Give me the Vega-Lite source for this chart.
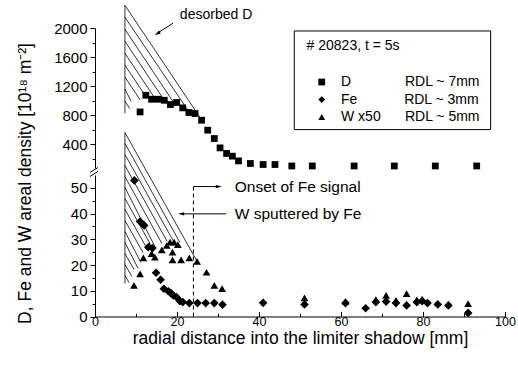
{
  "$schema": "https://vega.github.io/schema/vega-lite/v6.json",
  "padding": {"left": 15, "top": 4, "right": 5, "bottom": 5},
  "spacing": 7,
  "bounds": "flush",
  "config": {
    "font": "Liberation Sans",
    "view": {"stroke": null},
    "axis": {"domainColor": "black", "tickColor": "black", "labelColor": "black", "titleColor": "black", "grid": false, "labelFont": "Liberation Sans", "titleFont": "Liberation Sans", "titleFontWeight": "normal", "domainWidth": 1, "tickWidth": 1, "labelFlush": false, "labelOverlap": false},
    "text": {"font": "Liberation Sans", "color": "black"}
  },
  "vconcat": [
    {
      "width": 410,
      "height": 140,
      "encoding": {
        "x": {"field": "x", "type": "quantitative", "scale": {"domain": [0, 100]}, "axis": null},
        "y": {"field": "y", "type": "quantitative", "scale": {"domain": [72, 2000]},
          "axis": {"values": [200, 400, 600, 800, 1000, 1200, 1400, 1600, 1800, 2000], "format": "d",
            "labelExpr": "datum.value % 400 === 0 ? datum.label : ''",
            "tickSize": {"condition": {"test": "datum.value % 400 === 0", "value": 5}, "value": 3},
            "labelFontSize": 15, "labelPadding": 3, "title": null}}
      },
      "layer": [
        {
          "data": {"values": [
            {"x": 7.3, "y": 2312, "x2": 7.3, "y2": 827},
            {"x": 7.3, "y": 2312, "x2": 25.9, "y2": 744},
            {"x": 7.3, "y": 2147, "x2": 23.0, "y2": 840},
            {"x": 7.3, "y": 1982, "x2": 19.3, "y2": 964},
            {"x": 7.3, "y": 1817, "x2": 16.8, "y2": 1012},
            {"x": 7.3, "y": 1652, "x2": 14.6, "y2": 1033},
            {"x": 7.3, "y": 1487, "x2": 12.2, "y2": 1074},
            {"x": 7.3, "y": 1322, "x2": 11.0, "y2": 1012},
            {"x": 7.3, "y": 1157, "x2": 8.8, "y2": 992},
            {"x": 7.3, "y": 991, "x2": 8.5, "y2": 889}
          ]},
          "mark": {"type": "rule", "color": "black", "strokeWidth": 0.8},
          "encoding": {"x2": {"field": "x2"}, "y2": {"field": "y2"}}
        },
        {
          "data": {"values": [
            {"x": 11.0, "y": 844}, {"x": 12.4, "y": 1074}, {"x": 13.8, "y": 1019}, {"x": 15.4, "y": 1019},
            {"x": 16.9, "y": 1005}, {"x": 18.4, "y": 946}, {"x": 19.9, "y": 974}, {"x": 21.4, "y": 900},
            {"x": 22.9, "y": 836}, {"x": 24.4, "y": 822}, {"x": 26.0, "y": 730}, {"x": 27.5, "y": 593},
            {"x": 29.1, "y": 478}, {"x": 30.5, "y": 349}, {"x": 32.1, "y": 272}, {"x": 33.5, "y": 235},
            {"x": 35.0, "y": 170}, {"x": 37.9, "y": 134}, {"x": 41.0, "y": 120}, {"x": 43.9, "y": 120},
            {"x": 48.0, "y": 100}, {"x": 53.0, "y": 100}, {"x": 63.2, "y": 100}, {"x": 73.0, "y": 100},
            {"x": 83.0, "y": 100}, {"x": 93.1, "y": 100}
          ]},
          "mark": {"type": "point", "shape": "square", "filled": true, "color": "black", "opacity": 1, "size": 46}
        },
        {
          "data": {"values": [{"x": 48.6, "y": 1959, "x2": 96.5, "y2": 601}]},
          "mark": {"type": "rect", "fill": null, "fillOpacity": 0, "stroke": "black", "strokeWidth": 1},
          "encoding": {"x2": {"field": "x2"}, "y2": {"field": "y2"}}
        },
        {
          "data": {"values": [
            {"x": 51.6, "y": 1748, "t": "# 20823, t = 5s"},
            {"x": 60.0, "y": 1256, "t": "D"},
            {"x": 75.6, "y": 1256, "t": "RDL ~ 7mm"},
            {"x": 60.0, "y": 1014, "t": "Fe"},
            {"x": 75.4, "y": 1014, "t": "RDL ~ 3mm"},
            {"x": 60.0, "y": 774, "t": "W x50"},
            {"x": 75.6, "y": 774, "t": "RDL ~ 5mm"}
          ]},
          "mark": {"type": "text", "align": "left", "baseline": "middle", "fontSize": 14, "color": "black"},
          "encoding": {"text": {"field": "t"}}
        },
        {
          "data": {"values": [
            {"x": 55.3, "y": 1256, "s": "D"},
            {"x": 55.3, "y": 1014, "s": "Fe"},
            {"x": 55.3, "y": 774, "s": "W"}
          ]},
          "mark": {"type": "point", "filled": true, "color": "black", "opacity": 1, "size": 46},
          "encoding": {"shape": {"field": "s", "type": "nominal", "scale": {"domain": ["D", "Fe", "W"], "range": ["square", "diamond", "triangle-up"]}, "legend": null}}
        },
        {
          "data": {"values": [{"x": 20.7, "y": 2175, "t": "desorbed D"}]},
          "mark": {"type": "text", "align": "left", "baseline": "middle", "fontSize": 14, "color": "black"},
          "encoding": {"text": {"field": "t"}}
        },
        {
          "data": {"values": [{"x": 19.0, "y": 2065, "x2": 15.4, "y2": 1935}]},
          "mark": {"type": "rule", "color": "black", "strokeWidth": 1},
          "encoding": {"x2": {"field": "x2"}, "y2": {"field": "y2"}}
        },
        {
          "data": {"values": [{"x": 15.2, "y": 1923}]},
          "mark": {"type": "point", "shape": "M0,-1L0.55,1L-0.55,1Z", "angle": 237.7, "filled": true, "color": "black", "opacity": 1, "size": 36}
        }
      ]
    },
    {
      "width": 410,
      "height": 141.5,
      "encoding": {
        "x": {"field": "x", "type": "quantitative", "scale": {"domain": [0, 100]},
          "axis": {"values": [0, 10, 20, 30, 40, 50, 60, 70, 80, 90, 100], "format": "d",
            "labelExpr": "datum.value % 20 === 0 ? datum.label : ''",
            "tickSize": {"condition": {"test": "datum.value % 20 === 0", "value": -5}, "value": -3},
            "labelFontSize": 12.5, "labelPadding": 4,
            "title": "radial distance into the limiter shadow [mm]", "titleFontSize": 17.5,
            "titleBaseline": "alphabetic", "titleY": 26.7}},
        "y": {"field": "y", "type": "quantitative", "scale": {"domain": [0, 55]},
          "axis": {"values": [0, 5, 10, 15, 20, 25, 30, 35, 40, 45, 50], "format": "d",
            "labelExpr": "datum.value % 10 === 0 ? datum.label : ''",
            "tickSize": {"condition": {"test": "datum.value % 10 === 0", "value": 5}, "value": 3},
            "labelFontSize": 15, "labelPadding": 3,
            "title": "D, Fe and W areal density [10¹⁸ m⁻²]", "titleFontSize": 17.5,
            "titleAngle": 270, "titleAlign": "center", "titleBaseline": "middle", "titleX": -70, "titleY": 8}}
      },
      "layer": [
        {
          "data": {"values": [
            {"x": 7.3, "y": 71.5, "x2": 7.3, "y2": 12.8},
            {"x": 7.3, "y": 71.5, "x2": 24.9, "y2": 21.4},
            {"x": 7.3, "y": 67.3, "x2": 20.7, "y2": 28.8},
            {"x": 7.3, "y": 63.0, "x2": 19.3, "y2": 28.8},
            {"x": 7.3, "y": 58.7, "x2": 17.6, "y2": 29.2},
            {"x": 7.3, "y": 54.4, "x2": 16.3, "y2": 28.4},
            {"x": 7.3, "y": 50.2, "x2": 14.6, "y2": 27.2},
            {"x": 7.3, "y": 45.9, "x2": 13.4, "y2": 28.4},
            {"x": 7.3, "y": 41.6, "x2": 12.7, "y2": 26.4},
            {"x": 7.3, "y": 37.3, "x2": 11.7, "y2": 24.9},
            {"x": 7.3, "y": 33.0, "x2": 11.2, "y2": 21.0},
            {"x": 7.3, "y": 28.8, "x2": 10.5, "y2": 18.7},
            {"x": 7.3, "y": 24.5, "x2": 9.5, "y2": 18.3},
            {"x": 7.3, "y": 20.2, "x2": 9.0, "y2": 15.6},
            {"x": 7.3, "y": 15.9, "x2": 8.3, "y2": 13.2}
          ]},
          "mark": {"type": "rule", "color": "black", "strokeWidth": 0.8},
          "encoding": {"x2": {"field": "x2"}, "y2": {"field": "y2"}}
        },
        {
          "data": {"values": [
            {"x": -1.22, "y": 56.0, "x2": 0.73, "y2": 57.9},
            {"x": -1.22, "y": 54.4, "x2": 0.73, "y2": 56.4}
          ]},
          "mark": {"type": "rule", "color": "black", "strokeWidth": 1},
          "encoding": {"x2": {"field": "x2"}, "y2": {"field": "y2"}}
        },
        {
          "data": {"values": [{"x": 24, "y": 0, "x2": 24, "y2": 50.5}]},
          "mark": {"type": "rule", "color": "black", "strokeWidth": 1, "strokeDash": [4, 3]},
          "encoding": {"x2": {"field": "x2"}, "y2": {"field": "y2"}}
        },
        {
          "data": {"values": [
            {"x": 24, "y": 50.5, "x2": 30.0, "y2": 50.5},
            {"x": 21.3, "y": 39.9, "x2": 32.0, "y2": 39.9}
          ]},
          "mark": {"type": "rule", "color": "black", "strokeWidth": 1},
          "encoding": {"x2": {"field": "x2"}, "y2": {"field": "y2"}}
        },
        {
          "data": {"values": [{"x": 30.2, "y": 50.5}]},
          "mark": {"type": "point", "shape": "M0,-1L0.55,1L-0.55,1Z", "angle": 90, "filled": true, "color": "black", "opacity": 1, "size": 36}
        },
        {
          "data": {"values": [{"x": 21.0, "y": 39.9}]},
          "mark": {"type": "point", "shape": "M0,-1L0.55,1L-0.55,1Z", "angle": 270, "filled": true, "color": "black", "opacity": 1, "size": 36}
        },
        {
          "data": {"values": [
            {"x": 34.1, "y": 50.4, "t": "Onset of Fe signal"},
            {"x": 34.1, "y": 39.9, "t": "W sputtered by Fe"}
          ]},
          "mark": {"type": "text", "align": "left", "baseline": "middle", "fontSize": 15.5, "color": "black"},
          "encoding": {"text": {"field": "t"}}
        },
        {
          "data": {"values": [
            {"x": 9.6, "y": 52.9}, {"x": 11.0, "y": 36.9}, {"x": 12.0, "y": 35.4}, {"x": 13.0, "y": 26.9},
            {"x": 14.0, "y": 26.6}, {"x": 14.9, "y": 17.0}, {"x": 16.0, "y": 14.3}, {"x": 16.8, "y": 10.8},
            {"x": 17.9, "y": 9.8}, {"x": 18.5, "y": 9.1}, {"x": 19.1, "y": 8.2}, {"x": 19.9, "y": 7.5},
            {"x": 20.7, "y": 6.0}, {"x": 21.4, "y": 5.6}, {"x": 23.0, "y": 5.2}, {"x": 25.0, "y": 5.2},
            {"x": 27.0, "y": 5.2}, {"x": 29.1, "y": 5.2}, {"x": 31.1, "y": 4.6}, {"x": 41.0, "y": 5.3},
            {"x": 51.1, "y": 4.7}, {"x": 61.1, "y": 5.2}, {"x": 66.0, "y": 3.2}, {"x": 68.5, "y": 5.6},
            {"x": 71.0, "y": 5.8}, {"x": 73.4, "y": 5.2}, {"x": 76.0, "y": 4.3}, {"x": 78.5, "y": 5.6},
            {"x": 79.8, "y": 6.0}, {"x": 81.1, "y": 5.2}, {"x": 83.6, "y": 4.7}, {"x": 86.2, "y": 4.3},
            {"x": 91.0, "y": 1.4}
          ]},
          "mark": {"type": "point", "shape": "diamond", "filled": true, "color": "black", "opacity": 1, "size": 75}
        },
        {
          "data": {"values": [
            {"x": 9.5, "y": 12.1}, {"x": 11.0, "y": 16.6}, {"x": 11.8, "y": 22.8}, {"x": 13.2, "y": 27.6},
            {"x": 13.8, "y": 24.4}, {"x": 14.6, "y": 23.1}, {"x": 16.3, "y": 25.9}, {"x": 17.5, "y": 27.6},
            {"x": 18.3, "y": 28.9}, {"x": 19.3, "y": 28.9}, {"x": 20.2, "y": 27.9}, {"x": 18.9, "y": 25.0},
            {"x": 18.9, "y": 22.0}, {"x": 21.0, "y": 22.0}, {"x": 23.0, "y": 22.8}, {"x": 24.9, "y": 21.4},
            {"x": 27.2, "y": 17.2}, {"x": 29.1, "y": 12.1}, {"x": 31.0, "y": 10.8}, {"x": 51.1, "y": 7.2},
            {"x": 61.1, "y": 5.9}, {"x": 68.5, "y": 6.6}, {"x": 71.0, "y": 8.2}, {"x": 73.4, "y": 6.3},
            {"x": 76.0, "y": 8.9}, {"x": 78.5, "y": 6.5}, {"x": 79.8, "y": 6.8}, {"x": 91.0, "y": 5.0}
          ]},
          "mark": {"type": "point", "shape": "triangle-up", "filled": true, "color": "black", "opacity": 1, "size": 60}
        }
      ]
    }
  ]
}
